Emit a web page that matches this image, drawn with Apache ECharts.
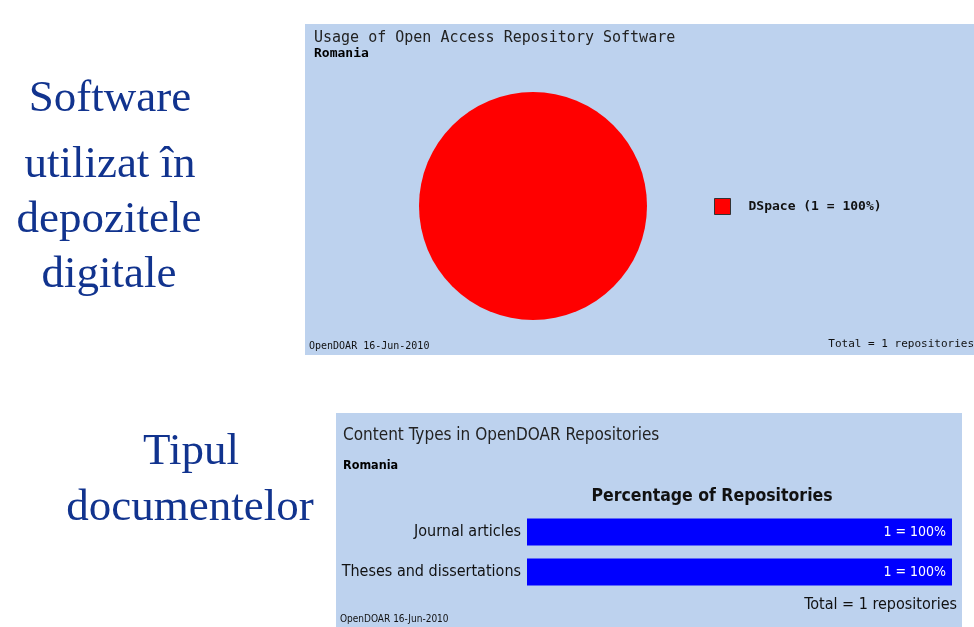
<!DOCTYPE html>
<html>
<head>
<meta charset="utf-8">
<script src="https://cdn.jsdelivr.net/npm/echarts@6/dist/echarts.min.js"></script>
<style>
html,body{margin:0;padding:0;background:#fff;}
#c{width:974px;height:627px;}
</style>
</head>
<body>
<div id="c"></div>
<script>
// ---- data ----
const softwareNames = ['DSpace'];
const softwareCounts = [1];
const softwarePercents = [100];
const contentTypes = ['Journal articles', 'Theses and dissertations'];
const contentCounts = [1, 1];
const contentPercents = [100, 100];
const totalRepositories = 1;
const sourceLabel = 'OpenDOAR 16-Jun-2010';
const country = 'Romania';

const serif = "'Liberation Serif', 'DejaVu Serif', serif";
const mono = "'DejaVu Sans Mono', 'Liberation Mono', monospace";
const narrow = "'Liberation Sans Narrow', 'DejaVu Sans Condensed', 'Liberation Sans', sans-serif";
const slideBlue = '#11338e';
const panelBg = '#bdd2ee';

const chart = echarts.init(document.getElementById('c'), null, {renderer: 'canvas'});

function slideText(txt, x, y) {
  return {type: 'text', x: x, y: y, z: 5,
    style: {text: txt, font: '45px ' + serif, fill: slideBlue, textAlign: 'center'}};
}

const option = {
  backgroundColor: '#ffffff',
  animation: false,
  graphic: [
    // panels
    {type: 'rect', shape: {x: 305, y: 24, width: 675, height: 331}, style: {fill: panelBg}, z: 0, silent: true},
    {type: 'rect', shape: {x: 336, y: 413, width: 626, height: 220}, style: {fill: panelBg}, z: 0, silent: true},
    // slide texts
    slideText('Software', 110, 77),
    slideText('utilizat în', 110, 143),
    slideText('depozitele', 109, 198),
    slideText('digitale', 109, 253),
    slideText('Tipul', 191, 430),
    slideText('documentelor', 190, 486),
    // top panel texts
    {type: 'text', x: 314, y: 31, z: 5, style: {text: 'Usage of Open Access Repository Software', font: '15px ' + mono, fill: '#222'}},
    {type: 'text', x: 314, y: 47, z: 5, style: {text: country, font: 'bold 13px ' + mono, fill: '#000'}},
    {type: 'text', x: 309, y: 341, z: 5, style: {text: sourceLabel, font: '10px ' + mono, fill: '#111'}},
    {type: 'text', x: 974, y: 339, z: 5, style: {text: 'Total = ' + totalRepositories + ' repositories', font: '11px ' + mono, fill: '#111', textAlign: 'right'}},
    // bottom panel texts
    {type: 'text', x: 343, y: 427, z: 5, style: {text: 'Content Types in OpenDOAR Repositories', font: '17px ' + narrow, fill: '#222'}},
    {type: 'text', x: 343, y: 459, z: 5, style: {text: country, font: 'bold 12.5px ' + narrow, fill: '#000'}},
    {type: 'text', x: 712, y: 487, z: 5, style: {text: 'Percentage of Repositories', font: 'bold 17.5px ' + narrow, fill: '#111', textAlign: 'center'}},
    {type: 'text', x: 957, y: 597, z: 5, style: {text: 'Total = ' + totalRepositories + ' repositories', font: '16px ' + narrow, fill: '#111', textAlign: 'right'}},
    {type: 'text', x: 340, y: 614, z: 5, style: {text: sourceLabel, font: '10px ' + narrow, fill: '#111'}}
  ],
  legend: {
    data: softwareNames,
    orient: 'vertical',
    left: 709, top: 193,
    itemWidth: 16, itemHeight: 16, itemGap: 10,
    icon: 'rect',
    itemStyle: {borderColor: '#333', borderWidth: 1},
    formatter: function (name) {
      const i = softwareNames.indexOf(name);
      return name + ' (' + softwareCounts[i] + ' = ' + softwarePercents[i] + '%)';
    },
    textStyle: {fontFamily: mono, fontWeight: 'bold', fontSize: 13, color: '#111', padding: [0, 0, 0, 13]},
    selectedMode: false
  },
  grid: {left: 527, top: 512, width: 425, height: 80, containLabel: false},
  xAxis: {type: 'value', min: 0, max: 100, show: false},
  yAxis: {
    type: 'category', data: contentTypes, inverse: true,
    axisLine: {show: false}, axisTick: {show: false}, splitLine: {show: false},
    axisLabel: {margin: 6, color: '#111', fontFamily: narrow, fontSize: 16}
  },
  series: [
    {
      type: 'pie', name: 'Software',
      center: [533, 206], radius: 114,
      silent: true,
      label: {show: false}, labelLine: {show: false},
      itemStyle: {color: '#ff0000'},
      data: softwareNames.map((n, i) => ({name: n, value: softwareCounts[i]}))
    },
    {
      type: 'bar', name: 'Content',
      barWidth: 27,
      silent: true,
      itemStyle: {color: '#0000ff'},
      label: {
        show: true, position: 'insideRight', distance: 6,
        color: '#ffffff', fontFamily: narrow, fontSize: 14,
        formatter: function (p) { return contentCounts[p.dataIndex] + ' = ' + contentPercents[p.dataIndex] + '%'; }
      },
      data: contentPercents
    }
  ]
};
chart.setOption(option);
</script>
</body>
</html>
